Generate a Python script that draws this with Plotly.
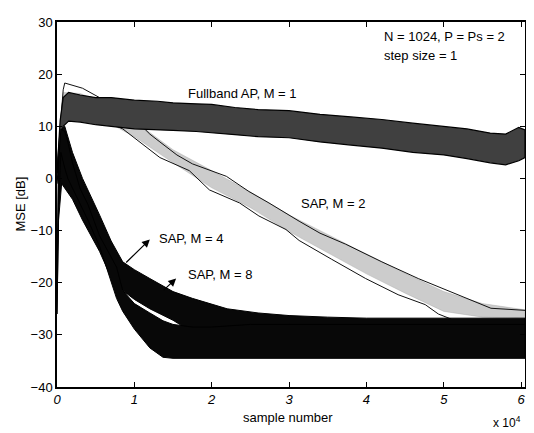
import plotly.graph_objects as go

# ---------------- data ----------------
# Fullband AP, M = 1 : noise band (upper / lower envelope), dB
fb_x = [0, 400, 800, 1500, 3000, 5000, 7000, 10000, 13000, 15000, 18000, 20000,
        23000, 26000, 30000, 34000, 38000, 42000, 46000, 50000, 53000, 56000,
        58000, 59700, 60500]
fb_up = [1, 11, 15.5, 16.5, 16, 15.5, 15.5, 15, 14.8, 14.5, 14.3, 14.2,
         13.6, 13.2, 13, 12.3, 11.8, 11.3, 10.6, 10, 9.5, 8.7, 8.5, 9.8, 9.3]
fb_lo = [-1, 6, 10, 11, 10.8, 10.3, 10, 9.5, 9.3, 9.2, 9, 8.8,
         8.4, 8, 7.8, 7, 6.4, 5.8, 5, 4.5, 3.8, 3, 2.6, 3.4, 4]

# SAP, M = 2 : upper black trace, lower black trace, grey band in between
m2u_x = [0, 800, 1000, 3300, 5500, 7700, 10300, 12000, 13300, 15500, 17500,
         21900, 24800, 27400, 31300, 34000, 37300, 42000, 46700, 50000,
         52800, 56100, 60500]
m2u_y = [2, 17, 18.3, 17.3, 15.5, 13.6, 11, 8.5, 7, 4.5, 2.8, 0.4, -2.5,
         -4.7, -8.2, -10.5, -12.6, -16, -19.2, -21.2, -23, -24.9, -25.3]
m2l_x = [0, 800, 1300, 4500, 8500, 10700, 13300, 17100, 19700, 23600, 26100,
         29600, 31300, 35500, 39900, 44100, 47600, 49300, 51000]
m2l_y = [2, 12, 13, 12, 9.5, 7, 4, 1.5, -2.2, -4.7, -7.2, -9.8, -11.9,
         -15.5, -19.2, -22.3, -24.2, -26, -27]
gr_x = [0, 800, 3000, 6000, 10000, 15000, 20000, 25000, 30000, 35000, 40000,
        45000, 50000, 55000, 60500]
gr_up = [2, 16.5, 16.3, 14.6, 11, 5.5, 1.5, -2.6, -7, -10.8, -14.5, -18.2,
         -21.7, -24, -25.2]
gr_lo = [1, 12.5, 12.6, 11.2, 8, 3, -1.8, -5.6, -10.2, -14.2, -18.3, -22,
         -25.5, -26.6, -26.8]

# SAP, M = 4 : noise band
m4_x = [0, 200, 600, 1000, 2000, 3300, 5500, 7000, 8500, 10000, 12000,
        15000, 17500, 22000, 26000, 30000, 35000, 40000, 50000, 60500]
m4_up = [-22, 2, 9.5, 10, 5, 0, -7, -12, -16, -17.5, -19.2, -21.7,
         -23, -25, -25.8, -26.3, -26.6, -26.8, -26.8, -26.8]
m4_lo = [-26, -8, -1, -2, -4, -8, -14, -19, -21.5, -23.2, -25,
         -27.2, -29.5, -31, -31.5, -32, -32, -32, -32, -32]

# SAP, M = 8 : noise band
m8_x = [0, 200, 500, 1000, 1400, 2000, 3000, 4000, 5500, 7700, 8500, 10000,
        12000, 13700, 15000, 17500, 20000, 25000, 30000, 40000, 50000, 60500]
m8_up = [-22, 3, 9.5, 9, 7, 3, -2, -5, -11, -17, -21.5, -24, -25.8, -27.3,
         -28, -28.5, -28.5, -28, -28, -28, -28, -28]
m8_lo = [-26, -6, 5, 2, 0, -2, -5, -8, -13, -23, -25.5, -28.9,
         -32.5, -34.3, -34.5, -34.6, -34.5, -34.5, -34.5, -34.5, -34.5, -34.5]

x_ticks = [0, 10000, 20000, 30000, 40000, 50000, 60000]
x_tick_text = ["0", "1", "2", "3", "4", "5", "6"]
y_ticks = [-40, -30, -20, -10, 0, 10, 20, 30]

FONT = "Liberation Sans, Arial, sans-serif"

fig = go.Figure()


def band(xs, up, lo, fill, line_color, lw):
    fig.add_trace(go.Scatter(
        x=list(xs) + list(xs)[::-1],
        y=list(up) + list(lo)[::-1],
        fill="toself", fillcolor=fill, mode="lines",
        line=dict(color=line_color, width=lw), hoverinfo="skip",
        showlegend=False))


# grey SAP M=2 band and its two traces
band(gr_x, gr_up, gr_lo, "rgba(195,195,195,0.85)", "rgba(160,160,160,0.6)", 0.6)
fig.add_trace(go.Scatter(x=m2u_x, y=m2u_y, mode="lines",
                         line=dict(color="#111", width=1), showlegend=False))
fig.add_trace(go.Scatter(x=m2l_x, y=m2l_y, mode="lines",
                         line=dict(color="#111", width=1), showlegend=False))
# fullband
band(fb_x, fb_up, fb_lo, "#404040", "#000", 1.2)
# SAP M=4 / M=8
band(m4_x, m4_up, m4_lo, "#080808", "#000", 1)
band(m8_x, m8_up, m8_lo, "#080808", "#000", 1)

txt = dict(family=FONT, size=13, color="black")
notes = [
    ("N = 1024, P = Ps = 2", 42000, 27.2),
    ("step size = 1", 42000, 23.6),
    ("Fullband AP, M = 1", 16700, 16.3),
    ("SAP, M = 2", 31300, -4.9),
    ("SAP, M = 4", 12900, -11.5),
    ("SAP, M = 8", 16700, -18.5),
]
for t, x, y in notes:
    fig.add_annotation(x=x, y=y, text=t, showarrow=False, xanchor="left",
                       yanchor="middle", font=txt)

# arrows
for (tx, ty, hx, hy) in [(8750, -16.4, 12000, -11.7), (13600, -21.7, 15400, -19.2)]:
    fig.add_annotation(x=hx, y=hy, ax=tx, ay=ty, xref="x", yref="y",
                       axref="x", ayref="y", text="", showarrow=True,
                       arrowhead=2, arrowsize=1.3, arrowwidth=1.2,
                       arrowcolor="black")

# axis titles
fig.add_annotation(x=0.494, y=-0.084, xref="paper", yref="paper",
                   text="sample number", showarrow=False, font=txt,
                   xanchor="center", yanchor="middle")
fig.add_annotation(x=-0.079, y=0.50, xref="paper", yref="paper",
                   text="MSE [dB]", showarrow=False, font=txt, textangle=-90,
                   xanchor="center", yanchor="middle")
fig.add_annotation(x=0.928, y=-0.097, xref="paper", yref="paper",
                   text="x 10<sup>4</sup>", showarrow=False,
                   font=dict(family=FONT, size=12, color="black"),
                   xanchor="left", yanchor="middle")

# the page body adds an 8 px offset, so the figure is 8 px smaller
fig.update_layout(
    width=526, height=425,
    margin=dict(l=49, r=7, t=8, b=46),
    paper_bgcolor="white", plot_bgcolor="white",
    font=txt,
    xaxis=dict(range=[0, 60500], tickvals=x_ticks, ticktext=x_tick_text,
               ticks="inside", ticklen=5, tickwidth=1, tickcolor="black",
               showline=True, linecolor="black", linewidth=1.5,
               mirror="allticks", showgrid=False, zeroline=False,
               tickfont=dict(family=FONT, size=13, color="black", style="italic")),
    yaxis=dict(range=[-40, 30], tickvals=y_ticks,
               ticks="inside", ticklen=5, tickwidth=1, tickcolor="black",
               showline=True, linecolor="black", linewidth=1.5,
               mirror="allticks", showgrid=False, zeroline=False,
               tickfont=dict(family=FONT, size=13, color="black")),
)

fig.write_html("out.html")
